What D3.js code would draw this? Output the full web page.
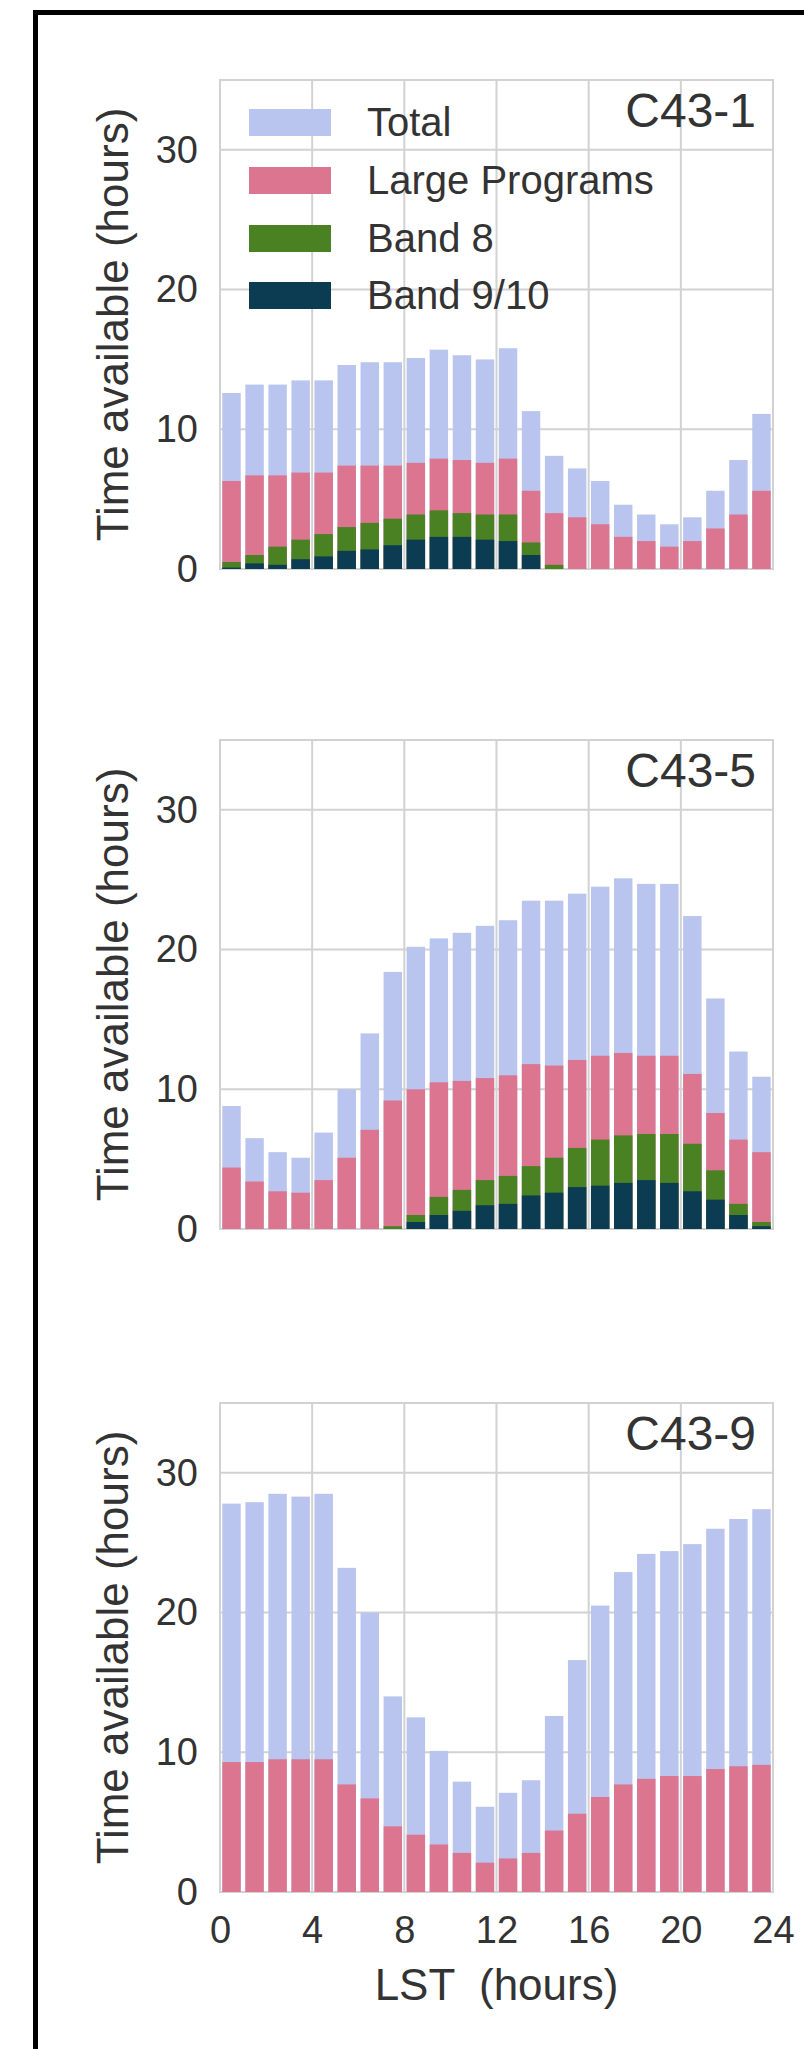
<!DOCTYPE html>
<html>
<head>
<meta charset="utf-8">
<script src="https://cdn.jsdelivr.net/npm/d3@7"></script>
<style>
  html, body { margin: 0; padding: 0; background: #ffffff; }
  svg { display: block; }
  text { font-family: "Liberation Sans", Arial, sans-serif; fill: #333333; }
</style>
</head>
<body>
<script>
// ---------------- data ----------------
const hours = d3.range(24);               // LST bin start (hours)
const configs = ["C43-1", "C43-5", "C43-9"];
const seriesNames = ["Total", "Large Programs", "Band 8", "Band 9/10"];
const seriesColors = ["#b9c5ef", "#db7590", "#4a8123", "#0b3c52"];
const xTicks = [0, 4, 8, 12, 16, 20, 24];
const yTicks = [0, 10, 20, 30];

// C43-1
const c1Total = [12.6,13.2,13.2,13.5,13.5,14.6,14.8,14.8,15.1,15.7,15.3,15.0,15.8,11.3,8.1,7.2,6.3,4.6,3.9,3.2,3.7,5.6,7.8,11.1];
const c1Large = [6.3,6.7,6.7,6.9,6.9,7.4,7.4,7.4,7.6,7.9,7.8,7.6,7.9,5.6,4.0,3.7,3.2,2.3,2.0,1.6,2.0,2.9,3.9,5.6];
const c1Band8 = [0.5,1.0,1.6,2.1,2.5,3.0,3.3,3.6,3.9,4.2,4.0,3.9,3.9,1.9,0.3,0,0,0,0,0,0,0,0,0];
const c1Band9 = [0.1,0.4,0.3,0.7,0.9,1.3,1.4,1.7,2.1,2.3,2.3,2.1,2.0,1.0,0,0,0,0,0,0,0,0,0,0];

// C43-5
const c5Total = [8.8,6.5,5.5,5.1,6.9,10.0,14.0,18.4,20.2,20.8,21.2,21.7,22.1,23.5,23.5,24.0,24.5,25.1,24.7,24.7,22.4,16.5,12.7,10.9];
const c5Large = [4.4,3.4,2.7,2.6,3.5,5.1,7.1,9.2,10.0,10.5,10.6,10.8,11.0,11.8,11.7,12.1,12.4,12.6,12.4,12.4,11.1,8.3,6.4,5.5];
const c5Band8 = [0,0,0,0,0,0,0,0.2,1.0,2.3,2.8,3.5,3.8,4.5,5.1,5.8,6.4,6.7,6.8,6.8,6.1,4.2,1.8,0.5];
const c5Band9 = [0,0,0,0,0,0,0,0,0.5,1.0,1.3,1.7,1.8,2.4,2.6,3.0,3.1,3.3,3.5,3.3,2.7,2.1,1.0,0.2];

// C43-9
const c9Total = [27.8,27.9,28.5,28.3,28.5,23.2,20.0,14.0,12.5,10.1,7.9,6.1,7.1,8.0,12.6,16.6,20.5,22.9,24.2,24.4,24.9,26.0,26.7,27.4];
const c9Large = [9.3,9.3,9.5,9.5,9.5,7.7,6.7,4.7,4.1,3.4,2.8,2.1,2.4,2.8,4.4,5.6,6.8,7.7,8.1,8.3,8.3,8.8,9.0,9.1];
const c9Band8 = new Array(24).fill(0);
const c9Band9 = new Array(24).fill(0);

const panelData = [
  [c1Total, c1Large, c1Band8, c1Band9],
  [c5Total, c5Large, c5Band8, c5Band9],
  [c9Total, c9Large, c9Band8, c9Band9]
];

// ---------------- layout ----------------
const W = 804, H = 2049;
const plotLeft = 220, plotRight = 773;
const panelTops = [80, 740, 1403];
const panelH = 489;
const gridColor = "#d2d2d2";

const svg = d3.select("body").append("svg").attr("width", W).attr("height", H);
svg.append("rect").attr("width", W).attr("height", H).attr("fill", "#ffffff");

// outer black frame (cropped at right/bottom in the reference)
svg.append("rect")
  .attr("x", 35.5).attr("y", 12.5)
  .attr("width", W + 20).attr("height", H + 20)
  .attr("fill", "none").attr("stroke", "#000").attr("stroke-width", 5);

const x = d3.scaleLinear().domain([0, 24]).range([plotLeft, plotRight]);
const barW = 0.8;

panelData.forEach((series, pi) => {
  const top = panelTops[pi];
  const y = d3.scaleLinear().domain([0, 35]).range([top + panelH, top]);
  const g = svg.append("g");

  // grid
  g.append("g").selectAll("line").data(xTicks).join("line")
    .attr("x1", d => x(d)).attr("x2", d => x(d))
    .attr("y1", top).attr("y2", top + panelH)
    .attr("stroke", gridColor).attr("stroke-width", 2);
  g.append("g").selectAll("line").data(yTicks).join("line")
    .attr("x1", plotLeft).attr("x2", plotRight)
    .attr("y1", d => y(d)).attr("y2", d => y(d))
    .attr("stroke", gridColor).attr("stroke-width", 2);
  // frame
  g.append("rect")
    .attr("x", plotLeft).attr("y", top)
    .attr("width", plotRight - plotLeft).attr("height", panelH)
    .attr("fill", "none").attr("stroke", gridColor).attr("stroke-width", 2);

  // bars (drawn in order: total, large, band8, band9/10)
  series.forEach((vals, si) => {
    g.append("g").selectAll("rect").data(hours.filter(h => vals[h] > 0)).join("rect")
      .attr("x", h => x(h + 0.5 - barW / 2))
      .attr("width", h => x(h + 0.5 + barW / 2) - x(h + 0.5 - barW / 2))
      .attr("y", h => y(vals[h]))
      .attr("height", h => y(0) - y(vals[h]))
      .attr("fill", seriesColors[si]);
  });

  // y axis via d3 axis, styled
  const yAxis = g.append("g")
    .attr("transform", `translate(${plotLeft},0)`)
    .call(d3.axisLeft(y).tickValues(yTicks).tickSize(0).tickPadding(22));
  yAxis.select(".domain").remove();
  yAxis.selectAll("text")
    .style("font-size", "38px")
    .style("font-family", '"Liberation Sans", Arial, sans-serif')
    .attr("fill", "#333333");

  // y label
  g.append("text")
    .attr("transform", `translate(128,${top + panelH / 2}) rotate(-90)`)
    .attr("text-anchor", "middle")
    .style("font-size", "44px")
    .text("Time available (hours)");

  // configuration annotation
  g.append("text")
    .attr("x", 756).attr("y", top + 47)
    .attr("text-anchor", "end")
    .style("font-size", "48px")
    .text(configs[pi]);

  // x axis only on bottom panel
  if (pi === 2) {
    const xAxis = g.append("g")
      .attr("transform", `translate(0,${top + panelH})`)
      .call(d3.axisBottom(x).tickValues(xTicks).tickSize(0).tickPadding(24));
    xAxis.select(".domain").remove();
    xAxis.selectAll("text")
      .style("font-size", "38px")
      .style("font-family", '"Liberation Sans", Arial, sans-serif')
      .attr("fill", "#333333");
    g.append("text")
      .attr("x", (plotLeft + plotRight) / 2).attr("y", 2000)
      .attr("text-anchor", "middle")
      .style("font-size", "44px")
      .style("white-space", "pre")
      .attr("xml:space", "preserve")
      .text("LST  (hours)");
  }

  // legend only on first panel
  if (pi === 0) {
    const rowY = [122, 180, 238, 295];
    const lg = g.append("g");
    seriesNames.forEach((name, i) => {
      lg.append("rect")
        .attr("x", 249).attr("y", rowY[i] - 13)
        .attr("width", 82).attr("height", 27)
        .attr("fill", seriesColors[i]);
      lg.append("text")
        .attr("x", 367).attr("y", rowY[i])
        .attr("dominant-baseline", "central")
        .style("font-size", "40px")
        .text(name);
    });
  }
});
</script>
</body>
</html>
